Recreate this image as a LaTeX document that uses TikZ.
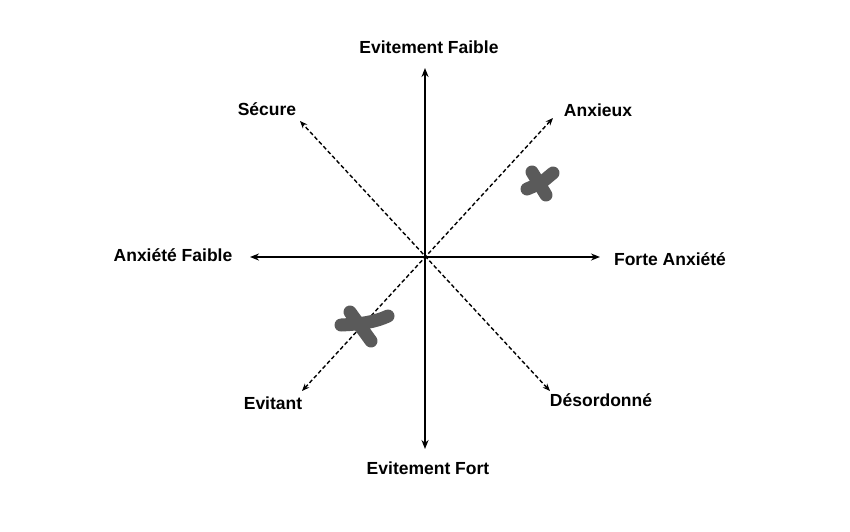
\documentclass[tikz,border=0pt]{standalone}
\usepackage{fontspec}
\setmainfont{Liberation Sans}
\usetikzlibrary{arrows.meta}
\definecolor{markgray}{RGB}{90,90,90}
\tikzset{
  lbl/.style={font=\fontsize{17.5}{20}\selectfont\bfseries, inner sep=0pt, text height=12.5pt, text depth=0pt, anchor=center},
  axis/.style={line width=2pt, {Stealth[length=9pt,width=7pt]}-{Stealth[length=9pt,width=7pt]}},
  diag/.style={line width=1.4pt, dash pattern=on 4pt off 2.5pt, {Stealth[length=7.5pt,width=6pt]}-{Stealth[length=7.5pt,width=6pt]}},
  xmark/.style={markgray, line width=13pt, line cap=round, line join=round}
}
\begin{document}
\begin{tikzpicture}[x=1pt,y=-1pt]
\useasboundingbox (0,0) rectangle (850,531);
\coordinate (O) at (425,257);
\coordinate (T) at (425,68);
\coordinate (B) at (425,449);
\coordinate (L) at (250,257);
\coordinate (R) at (600,257);
\coordinate (UL) at (300,121);
\coordinate (DR) at (550,391);
\coordinate (DL) at (302,391);
\coordinate (UR) at (553,118);
\draw[axis] (B) -- (T);
\draw[axis] (L) -- (R);
\draw[diag] (DR) -- (UL);
\draw[diag] (DL) -- (UR);
\node[lbl] (ef) at (429,47) {Evitement Faible};
\node[lbl] (sec) at (267,109) {Sécure};
\node[lbl] (anx) at (598,110) {Anxieux};
\node[lbl] (af) at (173,255) {Anxiété Faible};
\node[lbl] (fa) at (670,259) {Forte Anxiété};
\node[lbl] (evi) at (273,403) {Evitant};
\node[lbl] (des) at (601,400) {Désordonné};
\node[lbl] (efo) at (428,468) {Evitement Fort};
% marks
\draw[xmark] (532,172) -- (546,195);
\draw[xmark] (553,173) -- (541,183) -- (527,189);
\draw[xmark] (350,312) -- (371,341);
\draw[xmark] (341,325) .. controls (362,324) and (375,322) .. (388,316);
\end{tikzpicture}
\end{document}
